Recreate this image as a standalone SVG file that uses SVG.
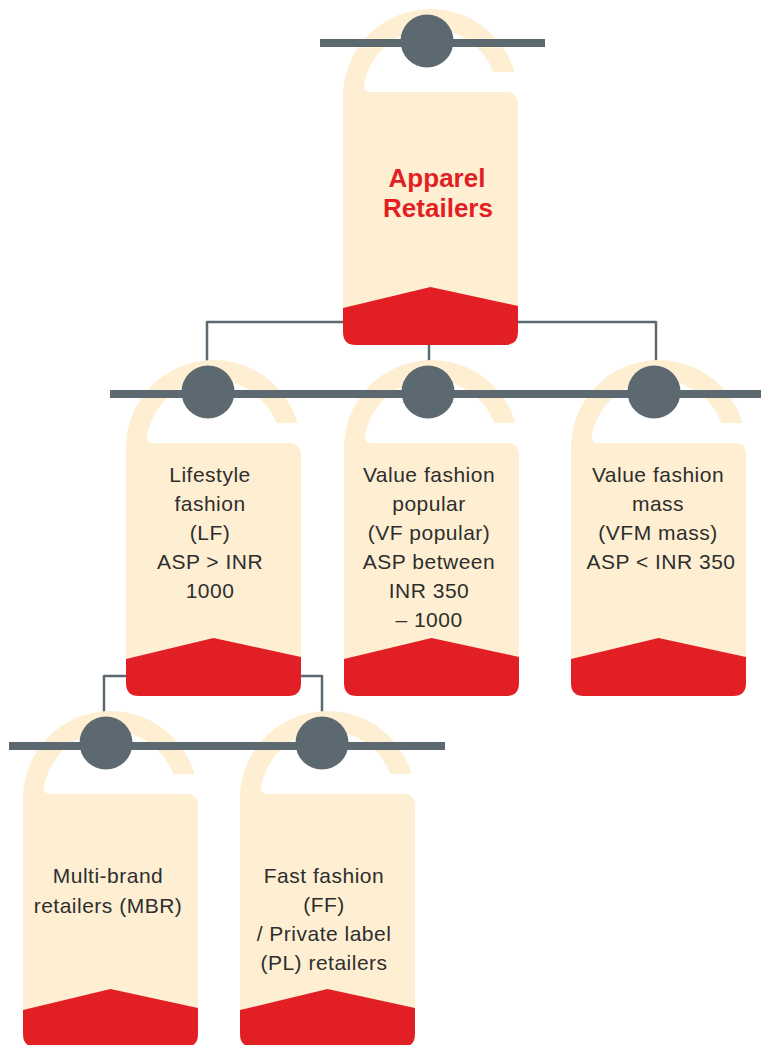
<svg xmlns="http://www.w3.org/2000/svg" xmlns:xlink="http://www.w3.org/1999/xlink" width="761" height="1045" viewBox="0 0 761 1045">
  <style>
    .tag { fill: #feefd2; }
    .foot { fill: #e31f26; }
    .conn { stroke: #5c6970; stroke-width: 2.5; fill: none; }
    .rail { fill: #5c6970; }
    .pin { fill: #5c6970; }
    .lbl { font-family: "Liberation Sans", Arial, sans-serif; font-size: 21px; fill: #2e2e2e; text-anchor: middle; letter-spacing: 0.5px; }
    .title { font-family: "Liberation Sans", Arial, sans-serif; font-size: 26px; font-weight: bold; fill: #e31f26; text-anchor: middle; }
  </style>
  <defs>
    <path id="tagShape" d="M0,323 L0,87.5 A87.5,87.5 0 0 1 171.5,63 L150.4,63 A67.5,67.5 0 0 0 20.8,77 Q20.8,83 28,83 L163,83 Q175,83 175,95 L175,323 Q175,336 162,336 L13,336 Q0,336 0,323 Z"/>
    <path id="footShape" d="M0,299 L87.5,278 L175,297 L175,323 Q175,336 162,336 L13,336 Q0,336 0,323 Z"/>
  </defs>

  <g id="connectors">
    <line class="conn" x1="429" y1="340" x2="429" y2="370"/>
    <line class="conn" x1="207" y1="322" x2="656" y2="322"/>
    <line class="conn" x1="207" y1="321" x2="207" y2="370"/>
    <line class="conn" x1="656" y1="321" x2="656" y2="370"/>
    <line class="conn" x1="104" y1="676" x2="322" y2="676"/>
    <line class="conn" x1="104" y1="675" x2="104" y2="720"/>
    <line class="conn" x1="322" y1="675" x2="322" y2="720"/>
  </g>

  <g id="node-apparel" transform="translate(343,9)">
    <use href="#tagShape" class="tag"/>
    <use href="#footShape" class="foot"/>
    <text class="title" x="94" y="178">Apparel</text>
    <text class="title" x="95" y="208">Retailers</text>
  </g>

  <g id="node-lf" transform="translate(126,360)">
    <use href="#tagShape" class="tag"/>
    <use href="#footShape" class="foot"/>
    <text class="lbl" x="84" y="122">Lifestyle</text>
    <text class="lbl" x="84" y="151">fashion</text>
    <text class="lbl" x="84" y="180">(LF)</text>
    <text class="lbl" x="84" y="209">ASP &gt; INR</text>
    <text class="lbl" x="84" y="238">1000</text>
  </g>

  <g id="node-vf" transform="translate(344,360)">
    <use href="#tagShape" class="tag"/>
    <use href="#footShape" class="foot"/>
    <text class="lbl" x="85" y="122">Value fashion</text>
    <text class="lbl" x="85" y="151">popular</text>
    <text class="lbl" x="85" y="180">(VF popular)</text>
    <text class="lbl" x="85" y="209">ASP between</text>
    <text class="lbl" x="85" y="238">INR 350</text>
    <text class="lbl" x="85" y="267">– 1000</text>
  </g>

  <g id="node-vfm" transform="translate(571,360)">
    <use href="#tagShape" class="tag"/>
    <use href="#footShape" class="foot"/>
    <text class="lbl" x="87" y="122">Value fashion</text>
    <text class="lbl" x="87" y="151">mass</text>
    <text class="lbl" x="87" y="180">(VFM mass)</text>
    <text class="lbl" x="90" y="209">ASP &lt; INR 350</text>
  </g>

  <g id="node-mbr" transform="translate(23,711)">
    <use href="#tagShape" class="tag"/>
    <use href="#footShape" class="foot"/>
    <text class="lbl" x="85" y="172">Multi-brand</text>
    <text class="lbl" x="85" y="202">retailers (MBR)</text>
  </g>

  <g id="node-ff" transform="translate(240,711)">
    <use href="#tagShape" class="tag"/>
    <use href="#footShape" class="foot"/>
    <text class="lbl" x="84" y="172">Fast fashion</text>
    <text class="lbl" x="84" y="201">(FF)</text>
    <text class="lbl" x="84" y="230">/ Private label</text>
    <text class="lbl" x="84" y="259">(PL) retailers</text>
  </g>

  <g id="rails">
    <rect class="rail" x="320" y="39" width="225" height="8"/>
    <rect class="rail" x="110" y="390" width="651" height="8"/>
    <rect class="rail" x="9" y="742" width="436" height="8"/>
  </g>

  <g id="pins">
    <circle id="pin-apparel" class="pin" cx="427" cy="41" r="26.5"/>
    <circle id="pin-lf" class="pin" cx="208" cy="392" r="26.5"/>
    <circle id="pin-vf" class="pin" cx="428" cy="392" r="26.5"/>
    <circle id="pin-vfm" class="pin" cx="654" cy="392" r="26.5"/>
    <circle id="pin-mbr" class="pin" cx="106" cy="743" r="26.5"/>
    <circle id="pin-ff" class="pin" cx="322" cy="743" r="26.5"/>
  </g>
</svg>
